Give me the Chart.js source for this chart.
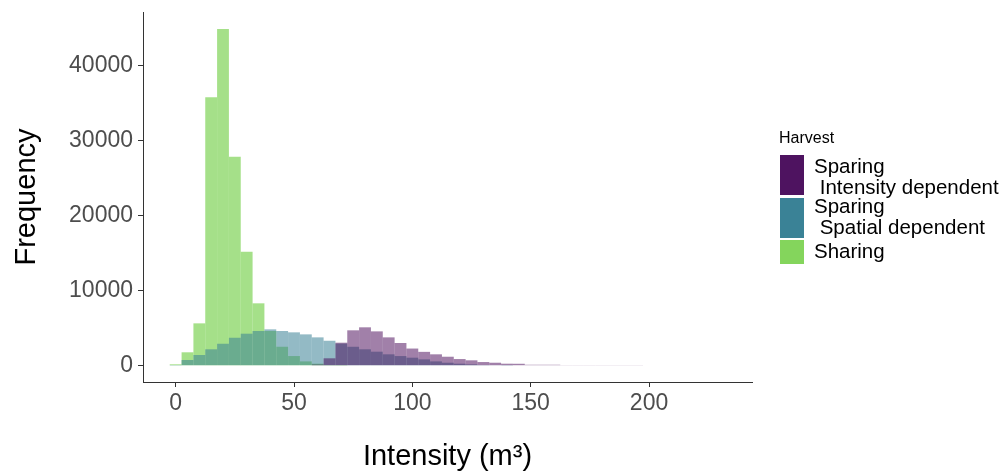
<!DOCTYPE html>
<html>
<head>
<meta charset="utf-8">
<script src="https://cdn.jsdelivr.net/npm/chart.js@4/dist/chart.umd.min.js"></script>
<style>
  body { margin: 0; background: #fff; }
  #wrap { width: 1008px; height: 476px; }
</style>
</head>
<body>
<div id="wrap"><canvas id="hist" width="1008" height="476"></canvas></div>
<script>
// histogram bins (centre of each 5 m3 bin)
const binCentres = [0, 5, 10, 15, 20, 25, 30, 35, 40, 45, 50, 55, 60, 65, 70, 75, 80, 85, 90, 95,
    100, 105, 110, 115, 120, 125, 130, 135, 140, 145, 150, 155, 160, 165, 170, 175, 180, 185, 190, 195];

const sparingIntensity = [0, 0, 0, 0, 0, 0, 0, 0, 0, 0, 0, 0, 150, 990, 3070, 4720, 5120, 4580, 3780, 3030,
    2290, 1850, 1520, 1200, 890, 720, 490, 400, 270, 260, 130, 130, 130, 50, 50, 50, 50, 50, 50, 50];

const sparingSpatial = [30, 760, 1430, 2190, 2930, 3730, 4270, 4630, 4850, 4630, 4450, 4180, 3780, 3330, 2950, 2530, 2190, 1870, 1520, 1290,
    1070, 850, 580, 400, 270, 180, 90, 60, 30, 0, 0, 0, 0, 0, 0, 0, 0, 0, 0, 0];

const sharing = [190, 1790, 5650, 35790, 44890, 27870, 15200, 8320, 4630, 2530, 1290, 580, 270, 100, 30, 0, 0, 0, 0, 0,
    0, 0, 0, 0, 0, 0, 0, 0, 0, 0, 0, 0, 0, 0, 0, 0, 0, 0, 0, 0];

const xTicks = [0, 50, 100, 150, 200];
const yTicks = [0, 10000, 20000, 30000, 40000];

const legendItems = [
    { lines: ['Sparing', ' Intensity dependent'], color: '#4e1360' },
    { lines: ['Sparing', ' Spatial dependent'], color: '#3a8296' },
    { lines: ['Sharing'], color: '#84d55c' }
];

const FONT = '"Liberation Sans", Arial, sans-serif';

function toPoints(values) {
    return binCentres.map((x, i) => ({ x: x, y: values[i] }));
}

// legend drawn at the right, like the ggplot guide
const harvestLegend = {
    id: 'harvestLegend',
    afterDraw(chart) {
        const ctx = chart.ctx;
        ctx.save();
        ctx.fillStyle = '#000';
        ctx.textBaseline = 'alphabetic';
        ctx.font = '16px ' + FONT;
        ctx.fillText('Harvest', 779, 143);

        const boxes = [[155, 40], [198, 40], [240, 24]];
        const baselines = [[173, 194], [213, 234], [258]];
        ctx.font = '20.5px ' + FONT;
        legendItems.forEach((item, i) => {
            ctx.fillStyle = item.color;
            ctx.fillRect(780, boxes[i][0], 24, boxes[i][1]);
            ctx.fillStyle = '#000';
            item.lines.forEach((line, j) => {
                ctx.fillText(line, 814, baselines[i][j]);
            });
        });
        ctx.restore();
    }
};

const axisGrey = '#333333';

new Chart(document.getElementById('hist').getContext('2d'), {
    type: 'bar',
    data: {
        datasets: [
            {
                label: 'Sparing Intensity dependent',
                data: toPoints(sparingIntensity),
                backgroundColor: 'rgba(68,1,84,0.5)'
            },
            {
                label: 'Sparing Spatial dependent',
                data: toPoints(sparingSpatial),
                backgroundColor: 'rgba(58,130,150,0.55)'
            },
            {
                label: 'Sharing',
                data: toPoints(sharing),
                backgroundColor: 'rgba(122,209,81,0.68)'
            }
        ]
    },
    options: {
        responsive: false,
        animation: false,
        devicePixelRatio: 1,
        grouped: false,
        barPercentage: 1,
        categoryPercentage: 1,
        borderWidth: 0,
        inflateAmount: 0,
        layout: { padding: { left: 0, top: 12, right: 256, bottom: 0 } },
        plugins: {
            legend: { display: false },
            tooltip: { enabled: false }
        },
        scales: {
            x: {
                type: 'linear',
                offset: false,
                min: -13.8,
                max: 243.5,
                afterBuildTicks: scale => { scale.ticks = xTicks.map(v => ({ value: v })); },
                afterFit: scale => {
                    scale.height = 94;
                    scale.paddingLeft = 0;
                    scale.paddingRight = 0;
                },
                ticks: {
                    color: '#4d4d4d',
                    font: { family: FONT, size: 23 },
                    padding: 3,
                    maxRotation: 0
                },
                grid: { display: true, offset: false, drawOnChartArea: false, drawTicks: true, tickLength: 5, tickColor: axisGrey },
                border: { display: true, color: axisGrey, width: 1 },
                title: {
                    display: true,
                    text: 'Intensity (m³)',
                    color: '#000',
                    font: { family: FONT, size: 29 },
                    padding: { top: 0, bottom: 2 }
                }
            },
            y: {
                type: 'linear',
                min: -2170,
                max: 47160,
                afterBuildTicks: scale => { scale.ticks = yTicks.map(v => ({ value: v })); },
                afterFit: scale => {
                    scale.width = 143;
                    scale.paddingTop = 0;
                    scale.paddingBottom = 0;
                },
                ticks: {
                    color: '#4d4d4d',
                    font: { family: FONT, size: 23 },
                    padding: 5,
                    callback: v => String(v)
                },
                grid: { display: true, drawOnChartArea: false, drawTicks: true, tickLength: 5, tickColor: axisGrey },
                border: { display: true, color: axisGrey, width: 1 },
                title: {
                    display: true,
                    text: 'Frequency',
                    color: '#000',
                    font: { family: FONT, size: 29 },
                    padding: { top: 10, bottom: 0 }
                }
            }
        }
    },
    plugins: [harvestLegend]
});
</script>
</body>
</html>
